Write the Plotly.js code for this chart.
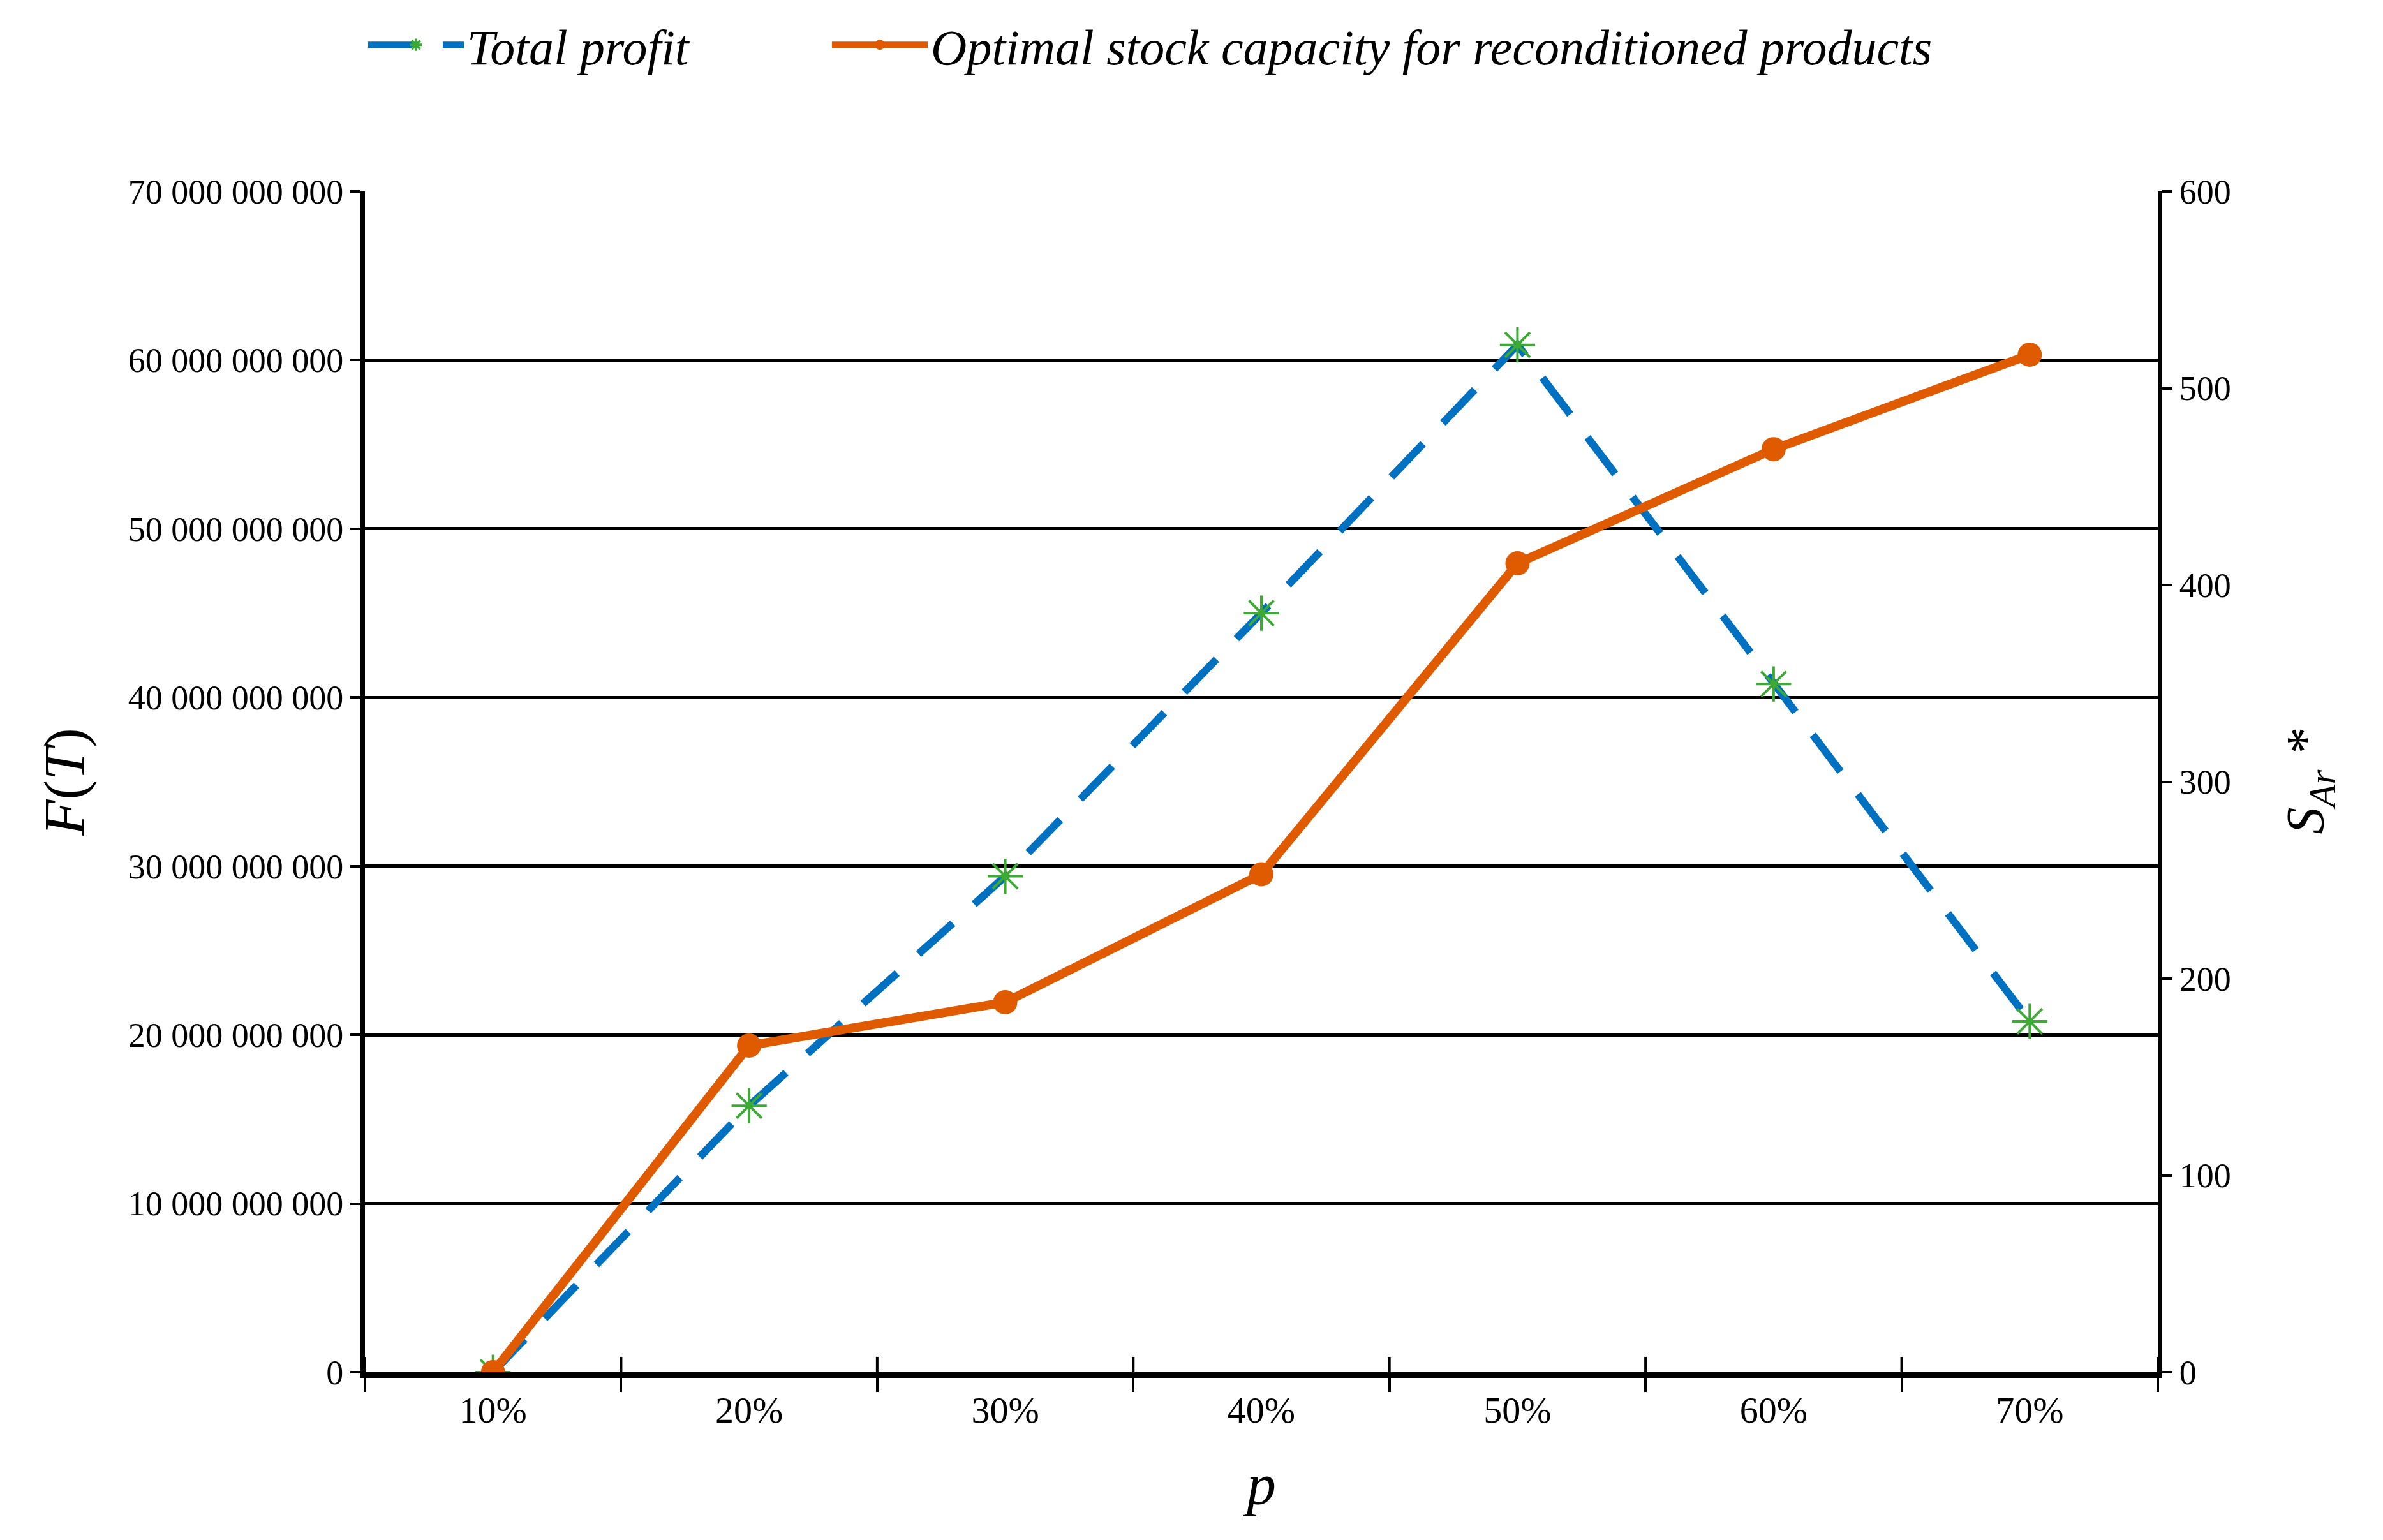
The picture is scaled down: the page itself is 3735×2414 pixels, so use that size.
<!DOCTYPE html>
<html>
<head>
<meta charset="utf-8">
<script src="https://cdn.plot.ly/plotly-3.0.1.min.js"></script>
<style>html,body{margin:0;padding:0;background:#fff;}#chart{width:3735px;height:2414px;}</style>
</head>
<body>
<div id="chart"></div>
<script>
const categories = ["10%", "20%", "30%", "40%", "50%", "60%", "70%"];
const totalProfit = [0, 15800000000, 29400000000, 45000000000, 60900000000, 40800000000, 20800000000];
const stockCapacity = [0, 166, 188, 253, 411, 469, 517];
const boundaryTicks = [-0.5, 0.5, 1.5, 2.5, 3.5, 4.5, 5.5, 6.5];

const serif = "Liberation Serif, Times New Roman, serif";
const pad = "&nbsp;".repeat(11);

const traces = [
  {
    x: categories, y: totalProfit, name: "<i>Total profit</i>" + pad,
    type: "scatter", mode: "lines+markers", yaxis: "y", xaxis: "x",
    line: {color: "#0070C0", width: 12, dash: "72px,45px"},
    marker: {symbol: "asterisk-open", size: 46, color: "#3DAA35", line: {color: "#3DAA35", width: 4}}
  },
  {
    x: categories, y: stockCapacity, name: "<i>Optimal stock capacity for reconditioned products</i>",
    type: "scatter", mode: "lines+markers", yaxis: "y2", xaxis: "x",
    line: {color: "#E05A00", width: 14},
    marker: {symbol: "circle", size: 38, color: "#E05A00"}
  }
];

const layout = {
  width: 3735, height: 2414,
  paper_bgcolor: "#fff", plot_bgcolor: "#fff",
  separators: ". ",
  margin: {l: 572, r: 353, t: 300, b: 263},
  font: {family: serif, color: "#000", size: 56},
  showlegend: true,
  legend: {
    orientation: "h", x: 0, xanchor: "left", y: 1.124, yanchor: "middle",
    font: {family: serif, size: 78, color: "#000"},
    itemwidth: 150, bgcolor: "rgba(0,0,0,0)"
  },
  xaxis: {
    type: "category", range: [-0.5, 6.5], tickson: "boundaries",
    ticks: "outside", ticklen: 22, tickwidth: 4, tickcolor: "#000",
    showline: true, linecolor: "#000", linewidth: 9,
    showgrid: false, zeroline: false,
    tickfont: {family: serif, size: 58, color: "#000"},
    title: {text: "<i>p</i>", font: {family: serif, size: 92, color: "#000"}, standoff: 55},
    fixedrange: true
  },
  yaxis: {
    range: [0, 70000000000], dtick: 10000000000, tickformat: ",d",
    showgrid: true, gridcolor: "#000", gridwidth: 5,
    showline: true, linecolor: "#000", linewidth: 7,
    ticks: "outside", ticklen: 16, tickwidth: 4, tickcolor: "#000",
    zeroline: false,
    tickfont: {family: serif, size: 54, color: "#000"},
    title: {text: "<i>F</i>(<i>T</i>)", font: {family: serif, size: 92, color: "#000"}, standoff: 40}
  },
  yaxis2: {
    overlaying: "y", side: "right", anchor: "x",
    range: [0, 600], dtick: 100,
    showgrid: false, zeroline: false,
    showline: true, linecolor: "#000", linewidth: 7,
    ticks: "outside", ticklen: 16, tickwidth: 4, tickcolor: "#000",
    tickfont: {family: serif, size: 54, color: "#000"},
    title: {text: "<i>S<sub>Ar</sub> *</i>", font: {family: serif, size: 84, color: "#000"}, standoff: 90}
  },
  shapes: boundaryTicks.map(function (b) {
    return {type: "line", xref: "x", yref: "paper", x0: b, x1: b, y0: 0, y1: 0.013,
            line: {color: "#000", width: 4}, layer: "above"};
  })
};

Plotly.newPlot("chart", traces, layout, {displayModeBar: false, staticPlot: true});
</script>
</body>
</html>
